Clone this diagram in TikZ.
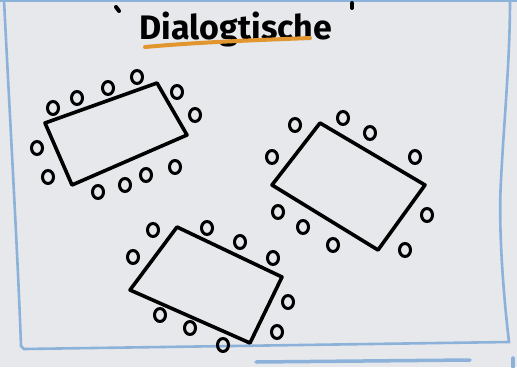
\documentclass[tikz,border=0pt]{standalone}
\usepackage{fontspec}
\setmainfont{Fira Sans}
\usetikzlibrary{shapes.geometric}
\definecolor{board}{RGB}{230,232,235}
\definecolor{boardblue}{RGB}{140,178,218}
\definecolor{marker}{RGB}{226,150,48}

\begin{document}
\begin{tikzpicture}[x=1pt, y=-1pt,
    tablebox/.style={draw=black, line width=3.6pt, line join=round},
    chair/.style={draw=black, ellipse, line width=3pt, inner sep=0pt, minimum width=11pt, minimum height=13pt},
    frame/.style={draw=boardblue, line width=2.6pt, line cap=round}]
    % board and frame
    \fill[board] (0,0) rectangle (517,367);
    \useasboundingbox (0,0) rectangle (517,367);
    \draw[frame] (0,1) -- (517,1);
    \draw[frame] (4,0) .. controls (10,120) and (18,260) .. (21,346) -- (24,349) -- (509,342) .. controls (504,300) and (498,230) .. (501,180) .. controls (504,120) and (510,60) .. (510,0);
    \draw[frame, line width=3.5pt] (256,362) -- (470,360);
    \draw[frame, line width=3.5pt] (513,358) -- (513,367);

    % title
    \node[font=\fontsize{34}{34}\selectfont\bfseries] (title) at (236,29) {Dialogtische};
    \draw[marker, line width=4pt, line cap=round] (145,47) .. controls (200,42) and (260,40) .. (310,38);
    \draw[line width=4pt, line cap=round] (116,7) -- (119,11);
    \draw[line width=4pt, line cap=round] (352,3) -- (352,8);

    % table 1
    \draw[tablebox] (45,123) -- (157,83) -- (187,135) -- (72,185) -- cycle;
    \node[chair] (t1c1) at (53,108) {};
    \node[chair] (t1c2) at (77,98) {};
    \node[chair] (t1c3) at (108,88) {};
    \node[chair] (t1c4) at (137,77) {};
    \node[chair] (t1c5) at (177,92) {};
    \node[chair] (t1c6) at (195,115) {};
    \node[chair] (t1c7) at (37,148) {};
    \node[chair] (t1c8) at (48,177) {};
    \node[chair] (t1c9) at (98,192) {};
    \node[chair] (t1c10) at (125,185) {};
    \node[chair] (t1c11) at (146,175) {};
    \node[chair] (t1c12) at (175,167) {};

    % table 2
    \draw[tablebox] (320,123) -- (425,185) -- (378,250) -- (272,185) -- cycle;
    \node[chair] (t2c1) at (295,125) {};
    \node[chair] (t2c2) at (343,118) {};
    \node[chair] (t2c3) at (370,133) {};
    \node[chair] (t2c4) at (415,157) {};
    \node[chair] (t2c5) at (272,157) {};
    \node[chair] (t2c6) at (427,215) {};
    \node[chair] (t2c7) at (278,212) {};
    \node[chair] (t2c8) at (303,227) {};
    \node[chair] (t2c9) at (333,245) {};
    \node[chair] (t2c10) at (405,250) {};

    % table 3
    \draw[tablebox] (177,227) -- (282,277) -- (250,343) -- (130,290) -- cycle;
    \node[chair] (t3c1) at (153,230) {};
    \node[chair] (t3c2) at (207,228) {};
    \node[chair] (t3c3) at (240,242) {};
    \node[chair] (t3c4) at (273,258) {};
    \node[chair] (t3c5) at (133,257) {};
    \node[chair] (t3c6) at (288,302) {};
    \node[chair] (t3c7) at (277,332) {};
    \node[chair] (t3c8) at (160,315) {};
    \node[chair] (t3c9) at (190,328) {};
    \node[chair] (t3c10) at (223,345) {};
\end{tikzpicture}
\end{document}
